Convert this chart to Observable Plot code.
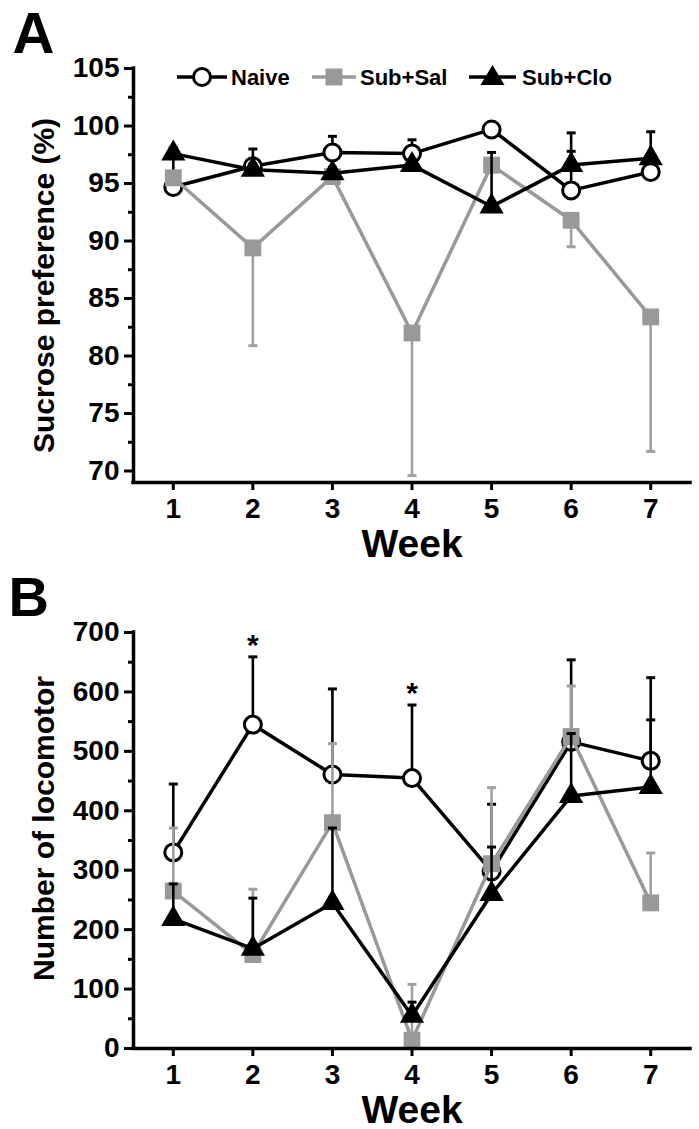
<!DOCTYPE html>
<html>
<head>
<meta charset="utf-8">
<script src="https://cdn.jsdelivr.net/npm/d3@7"></script>
<script src="https://cdn.jsdelivr.net/npm/@observablehq/plot@0.6"></script>
<style>
  html, body { margin: 0; padding: 0; background: #fff; }
  #fig { position: relative; width: 699px; height: 1129px; background: #fff; }
  #fig > svg, #fig > figure { position: absolute; left: 0; margin: 0; }
</style>
</head>
<body>
<div id="fig"></div>
<script>
// ---------- data ----------
const weeks = [1, 2, 3, 4, 5, 6, 7];
const seriesNames = ["Naive", "Sub+Sal", "Sub+Clo"];

// Panel A: sucrose preference (%), mean and SEM
const sucNaive    = [94.7, 96.5, 97.7, 97.6, 99.7, 94.4, 96.0];
const sucNaiveSem = [2.9, 1.5, 1.4, 1.2, 0.3, 3.4, 1.0];   // drawn upward
const sucSal      = [95.5, 89.4, 95.6, 82.0, 96.6, 91.8, 83.4];
const sucSalSem   = [0.6, 8.5, 0.6, 12.4, 0.6, 2.3, 11.7];  // drawn downward
const sucClo      = [97.6, 96.2, 95.9, 96.6, 93.0, 96.6, 97.2];
const sucCloSem   = [0.5, 0.5, 0.5, 0.5, 4.7, 2.8, 2.3];    // drawn upward

// Panel B: number of locomotor, mean and SEM (upward)
const locNaive    = [330, 545, 461, 455, 298, 516, 484];
const locNaiveSem = [115, 114, 144, 123, 113, 138, 140];
const locSal      = [265, 158, 380, 14, 311, 525, 245];
const locSalSem   = [106, 110, 133, 94, 128, 85, 84];
const locClo      = [218, 168, 245, 55, 260, 425, 440];
const locCloSem   = [59, 85, 126, 23, 79, 105, 113];
const starWeeks   = [2, 4];

// axis ticks
const sucTicks = [70, 75, 80, 85, 90, 95, 100, 105];
const sucMinor = [72.5, 77.5, 82.5, 87.5, 92.5, 97.5, 102.5];
const locTicks = [0, 100, 200, 300, 400, 500, 600, 700];
const locMinor = [50, 150, 250, 350, 450, 550, 650];

// ---------- helpers ----------
const FONT = '"Liberation Sans", Arial, Helvetica, sans-serif';
const BLACK = "#000";
const GRAY = "#999";
const GRAYBAR = "#a0a0a0";

const rows = (mean, sem, dir) => weeks.map((w, i) => ({
  week: w, mean: mean[i], end: mean[i] + dir * sem[i]
}));

const cap = { draw(ctx) { ctx.moveTo(-4.5, 0); ctx.lineTo(4.5, 0); } };

function seriesMarks(data, kind) {
  const color = kind === "sal" ? GRAY : BLACK;
  const barColor = kind === "sal" ? GRAYBAR : BLACK;
  const marks = [
    Plot.line(data, { x: "week", y: "mean", stroke: color, strokeWidth: 3.5, strokeLinejoin: "miter" }),
    Plot.ruleX(data, { x: "week", y1: "mean", y2: "end", stroke: barColor, strokeWidth: 2.6 }),
    Plot.dot(data, { x: "week", y: "end", symbol: cap, stroke: barColor, strokeWidth: 3, fill: "none", r: 3 })
  ];
  if (kind === "naive") {
    marks.push(Plot.dot(data, { x: "week", y: "mean", r: 8.5, fill: "white", stroke: BLACK, strokeWidth: 3 }));
  } else if (kind === "sal") {
    marks.push(Plot.dot(data, { x: "week", y: "mean", symbol: "square", r: 9.5, fill: GRAY, stroke: "none" }));
  } else {
    marks.push(Plot.dot(data, { x: "week", y: "mean", symbol: "triangle", r: 9, fill: BLACK, stroke: "none" }));
  }
  return marks;
}

function axesMarks(ticks, minor, yMin) {
  return [
    Plot.axisY({ ticks, tickSize: 9, tickPadding: 5, fontSize: 28, fontWeight: "bold", strokeWidth: 3, label: null, tickFormat: d3.format("d") }),
    Plot.axisY({ ticks: minor, tickSize: 5, text: null, strokeWidth: 3, label: null }),
    Plot.axisX({ ticks: weeks, tickSize: 8, tickPadding: 8, fontSize: 28, fontWeight: "bold", strokeWidth: 3, label: null, tickFormat: d3.format("d") }),
    Plot.ruleX([0.5], { stroke: BLACK, strokeWidth: 3.5, strokeLinecap: "square" }),
    Plot.ruleY([yMin], { stroke: BLACK, strokeWidth: 3.5, strokeLinecap: "square" }),
    Plot.text(["Week"], { frameAnchor: "bottom", dy: 62, fontSize: 39, fontWeight: "bold", lineAnchor: "middle" })
  ];
}

const fig = document.getElementById("fig");
const style = { fontFamily: FONT, fontWeight: "bold", color: "black", background: "transparent", overflow: "visible" };

// ---------- Panel A ----------
const A = Plot.plot({
  width: 699, height: 560,
  marginTop: 68, marginBottom: 78, marginLeft: 133, marginRight: 9,
  x: { domain: [0.5, 7.5], axis: null },
  y: { domain: [69, 105], axis: null },
  style,
  marks: [
    ...seriesMarks(rows(sucNaive, sucNaiveSem, 1), "naive"),
    ...seriesMarks(rows(sucSal, sucSalSem, -1), "sal"),
    ...seriesMarks(rows(sucClo, sucCloSem, 1), "clo"),
    ...axesMarks(sucTicks, sucMinor, 69),
    Plot.text(["Sucrose preference (%)"], { frameAnchor: "left", rotate: -90, dx: -89, dy: 10, fontSize: 30, fontWeight: "bold", textAnchor: "middle", lineAnchor: "middle" }),
    Plot.text(["A"], { frameAnchor: "top-left", dx: -121, dy: -16, fontSize: 58, fontWeight: "bold", textAnchor: "start", lineAnchor: "bottom" })
  ]
});
A.style.top = "0px";
fig.appendChild(A);

// ---------- Panel B ----------
const naiveB = rows(locNaive, locNaiveSem, 1);
const B = Plot.plot({
  width: 699, height: 569,
  marginTop: 72, marginBottom: 81, marginLeft: 133, marginRight: 9,
  x: { domain: [0.5, 7.5], axis: null },
  y: { domain: [0, 700], axis: null },
  style,
  marks: [
    ...seriesMarks(naiveB, "naive"),
    ...seriesMarks(rows(locSal, locSalSem, 1), "sal"),
    ...seriesMarks(rows(locClo, locCloSem, 1), "clo"),
    ...axesMarks(locTicks, locMinor, 0),
    Plot.text(naiveB.filter(d => starWeeks.includes(d.week)), { x: "week", y: "end", text: () => "*", dy: -2, fontSize: 30, fontWeight: "bold", lineAnchor: "bottom" }),
    Plot.text(["Number of locomotor"], { frameAnchor: "left", rotate: -90, dx: -89, dy: -12, fontSize: 30, fontWeight: "bold", textAnchor: "middle", lineAnchor: "middle" }),
    Plot.text(["B"], { frameAnchor: "top-left", dx: -125, dy: -17, fontSize: 56, fontWeight: "bold", textAnchor: "start", lineAnchor: "bottom" })
  ]
});
B.style.top = "560px";
fig.appendChild(B);

// ---------- Legend (panel A) ----------
const legendItems = [
  { name: seriesNames[0], kind: "naive", x1: 177, x2: 227, tx: 231 },
  { name: seriesNames[1], kind: "sal",   x1: 312, x2: 356, tx: 360 },
  { name: seriesNames[2], kind: "clo",   x1: 469, x2: 516, tx: 522 }
];
const ly = 77;
let lg = `<svg xmlns="http://www.w3.org/2000/svg" width="699" height="110" style="position:absolute;left:0;top:0;font-family:${FONT.replace(/"/g, "'")};font-weight:bold">`;
for (const it of legendItems) {
  const c = it.kind === "sal" ? GRAY : BLACK;
  const cx = (it.x1 + it.x2) / 2;
  lg += `<line x1="${it.x1}" x2="${it.x2}" y1="${ly}" y2="${ly}" stroke="${c}" stroke-width="3.5"/>`;
  if (it.kind === "naive") lg += `<circle cx="${cx}" cy="${ly}" r="8.5" fill="white" stroke="black" stroke-width="3"/>`;
  else if (it.kind === "sal") lg += `<rect x="${cx - 8.5}" y="${ly - 8.5}" width="17" height="17" fill="${GRAY}"/>`;
  else lg += `<path d="M${cx},${ly - 12} L${cx + 12},${ly + 8} L${cx - 12},${ly + 8} Z" fill="black"/>`;
  lg += `<text x="${it.tx}" y="${ly}" dy="0.36em" font-size="22" fill="black">${it.name}</text>`;
}
lg += `</svg>`;
fig.insertAdjacentHTML("beforeend", lg);
</script>
</body>
</html>
